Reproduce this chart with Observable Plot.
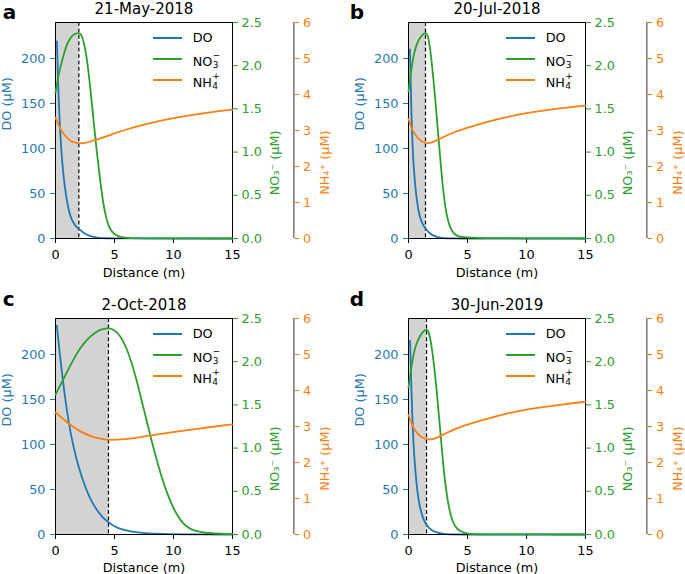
<!DOCTYPE html>
<html>
<head>
<meta charset="utf-8">
<script src="https://cdn.jsdelivr.net/npm/d3@7"></script>
<script src="https://cdn.jsdelivr.net/npm/@observablehq/plot@0.6"></script>
<style>
html, body { margin: 0; padding: 0; background: #fff; overflow: hidden; }
#fig { position: relative; width: 685px; height: 574px; overflow: hidden; background: #fff;
       font-family: "DejaVu Sans", sans-serif; }
#fig svg { position: absolute; overflow: visible; }
.lgline { position: absolute; height: 1.8px; }
.lgtext { position: absolute; font-size: 12.8px; line-height: 1; white-space: nowrap; color: #000; }
.st { display: inline-block; position: relative; width: 6px; height: 12.8px; vertical-align: baseline; }
.st .sp, .st .sb { position: absolute; left: 0.3px; font-size: 8.96px; line-height: 1; }
.st .sp { top: -1.2px; }
.st .sb { top: 8.2px; }
</style>
</head>
<body>
<div id="fig"></div>
<script>
// ---------- data ----------
const panelLetters = ["a", "b", "c", "d"];
const panelDates = ["21-May-2018", "20-Jul-2018", "2-Oct-2018", "30-Jun-2019"];
const oxicBoundary = [1.98, 1.44, 4.49, 1.53];   // dashed line / shaded zone edge (m)

const distTicks = [0, 5, 10, 15];
const doTicks = [0, 50, 100, 150, 200];
const no3Ticks = [0, 0.5, 1, 1.5, 2, 2.5];
const nh4Ticks = [0, 1, 2, 3, 4, 5, 6];
const doAxisMax = 240;

const seriesNames = ["DO", "NO₃⁻", "NH₄⁺"];
const legendParts = [["DO", "", ""], ["NO", "3", "−"], ["NH", "4", "+"]];
const axisLabels = ["DO (μM)", "NO₃⁻ (μM)", "NH₄⁺ (μM)"];
const xLabel = "Distance (m)";

// [distance m, DO µM]
const doA = [[0.12,219],[0.23,168],[0.34,131],[0.51,94],[0.65,73],[0.8,56],[1.0,39],[1.2,27],[1.45,18.5],[1.75,13],[1.98,10.7],[2.4,6],[2.9,2.6],[3.5,0.9],[4.3,0.2],[5,0],[15,0]];
const doB = [[0.12,210],[0.19,170],[0.26,132],[0.35,101],[0.45,77],[0.6,54],[0.74,39],[0.9,27],[1.1,18],[1.44,10.7],[1.8,5.5],[2.2,2.4],[2.7,0.7],[3.3,0.1],[4,0],[15,0]];
const doC = [[0.11,232],[0.4,196],[0.82,150],[1.15,122],[1.47,100],[2.0,72],[2.6,50],[3.0,38],[3.5,27],[4.0,19],[4.49,13.5],[5.0,9],[5.5,6],[6.5,3],[7.5,1.5],[9,0.5],[11,0.1],[15,0]];
const doD = [[0.14,215],[0.22,172],[0.31,133],[0.42,101],[0.54,77],[0.68,56],[0.82,41],[1.0,28],[1.25,17],[1.53,10],[1.9,5.2],[2.3,2.4],[2.9,0.7],[3.5,0.1],[4.2,0],[15,0]];

// [distance m, NO3- µM]
const no3A = [[0,1.69],[0.2,1.85],[0.4,1.98],[0.7,2.13],[0.96,2.25],[1.25,2.32],[1.53,2.365],[1.98,2.385],[2.2,2.36],[2.4,2.28],[2.66,2.09],[2.94,1.76],[3.22,1.37],[3.5,1.0],[3.79,0.66],[4.07,0.38],[4.35,0.2],[4.64,0.1],[5,0.045],[5.5,0.016],[6,0.006],[7,0.001],[15,0]];
const no3B = [[0,1.70],[0.2,1.92],[0.4,2.10],[0.6,2.21],[0.82,2.29],[1.1,2.35],[1.44,2.385],[1.6,2.37],[1.8,2.25],[2.09,1.88],[2.3,1.56],[2.52,1.2],[2.75,0.83],[2.94,0.55],[3.2,0.28],[3.5,0.13],[3.8,0.06],[4.2,0.02],[5,0.003],[15,0]];
const no3C = [[0,1.62],[0.5,1.75],[1,1.89],[1.5,2.02],[2,2.14],[2.5,2.23],[3,2.30],[3.5,2.35],[4,2.38],[4.49,2.39],[5,2.37],[5.5,2.30],[6,2.17],[6.5,1.97],[7,1.72],[7.5,1.44],[8,1.16],[8.5,0.90],[9,0.66],[9.5,0.46],[10,0.30],[10.5,0.18],[11,0.10],[11.5,0.06],[12,0.035],[13,0.015],[14,0.008],[15,0.005]];
const no3D = [[0,1.70],[0.2,1.90],[0.4,2.07],[0.6,2.18],[0.82,2.26],[1.2,2.35],[1.53,2.38],[1.7,2.36],[1.95,2.2],[2.24,1.875],[2.45,1.57],[2.66,1.25],[2.87,0.92],[3.08,0.62],[3.35,0.36],[3.64,0.18],[3.95,0.09],[4.35,0.035],[5,0.008],[6,0.001],[15,0]];

// [distance m, NH4+ µM]
const nh4A = [[0,3.36],[0.2,3.19],[0.4,3.05],[0.7,2.9],[0.96,2.8],[1.25,2.72],[1.53,2.67],[1.98,2.64],[2.5,2.65],[3,2.70],[4,2.80],[5,2.92],[6,3.03],[7.5,3.17],[10,3.35],[12.5,3.48],[15,3.58]];
const nh4B = [[0,3.32],[0.2,3.12],[0.4,2.96],[0.82,2.77],[1.2,2.68],[1.58,2.64],[2.0,2.66],[3,2.83],[4,2.97],[5,3.08],[7.5,3.32],[10,3.49],[12.5,3.61],[15,3.69]];
const nh4C = [[0,3.39],[0.5,3.25],[1,3.11],[1.5,2.99],[2,2.88],[2.5,2.80],[3,2.73],[3.5,2.68],[4,2.65],[4.5,2.63],[5,2.63],[6,2.65],[7.5,2.72],[8,2.75],[10,2.85],[12.5,2.96],[15,3.06]];
const nh4D = [[0,3.32],[0.2,3.13],[0.4,2.97],[0.82,2.77],[1.2,2.68],[1.75,2.63],[2.2,2.65],[3,2.79],[4,2.94],[5,3.06],[7.5,3.30],[10,3.48],[12.5,3.59],[15,3.69]];

const doSeries = [doA, doB, doC, doD];
const no3Series = [no3A, no3B, no3C, no3D];
const nh4Series = [nh4A, nh4B, nh4C, nh4D];

// ---------- style / layout ----------
const BLUE = "#1f77b4", GREEN = "#2ca02c", ORANGE = "#ff7f0e";
const frameLeft = [55.3, 408.3], frameTop = [21.7, 317.7];
const frameW = 177, frameH = 216;
const mL = 60, mR = 110, mT = 30, mB = 50;
const letterX = [2.5, 349.5], letterBaseline = [18, 305];
const xLabelDy = [34.5, 33.5];
const nh4AxisOffset = 61.4;
const legendRows = [16.6, 37, 58];

const fig = document.getElementById("fig");

function place(svg, left, top) {
  svg.style.left = left + "px";
  svg.style.top = top + "px";
  fig.appendChild(svg);
}

function panel(i) {
  const col = i % 2, row = Math.floor(i / 2);
  const fl = frameLeft[col], ft = frameTop[row];
  const base = {
    width: mL + frameW + mR, height: mT + frameH + mB,
    marginLeft: mL, marginRight: mR, marginTop: mT, marginBottom: mB,
    x: {domain: [0, d3.max(distTicks)], axis: null},
    style: {background: "transparent", overflow: "visible", fontFamily: "'DejaVu Sans', sans-serif", fontSize: "12.8px", color: "black"}
  };
  const line = (data, stroke) => Plot.line(data, {x: d => d[0], y: d => d[1], stroke, strokeWidth: 1.8, curve: "basis"});
  const label = (txt, opts) => Plot.text([txt], {text: d => d, lineAnchor: "middle", ...opts});

  const main = Plot.plot({
    ...base,
    y: {domain: [0, doAxisMax], axis: null},
    marks: [
      Plot.rect([oxicBoundary[i]], {x1: 0, x2: d => d, y1: 0, y2: doAxisMax, fill: "#d3d3d3"}),
      Plot.ruleX([oxicBoundary[i]], {x: d => d, stroke: "black", strokeWidth: 1.2, strokeDasharray: "4,2.4"}),
      line(doSeries[i], BLUE),
      Plot.frame({stroke: "black", strokeWidth: 1}),
      Plot.axisX({ticks: distTicks, tickSize: 5, tickPadding: 6, label: null, color: "black"}),
      Plot.axisY({ticks: doTicks, anchor: "left", tickSize: 5, tickPadding: 5, label: null, color: BLUE}),
      label(panelDates[i], {frameAnchor: "top", dy: -13, fontSize: 15}),
      label(xLabel, {frameAnchor: "bottom", dy: xLabelDy[row]}),
      label(axisLabels[0], {frameAnchor: "left", dx: -48.5, rotate: -90, fill: BLUE}),
      label(panelLetters[i], {frameAnchor: "top-left", dx: letterX[col] - fl, dy: letterBaseline[row] - 6.4 - ft,
        fontSize: 20, fontWeight: "bold", textAnchor: "start"})
    ]
  });
  place(main, fl - mL, ft - mT);

  const no3 = Plot.plot({
    ...base,
    y: {domain: [0, d3.max(no3Ticks)], axis: null},
    marks: [
      line(no3Series[i], GREEN),
      Plot.axisY({ticks: no3Ticks, anchor: "right", tickSize: 5, tickPadding: 4, tickFormat: d3.format(".1f"), label: null, color: GREEN}),
      label(axisLabels[1], {frameAnchor: "right", dx: 42.7, rotate: -90, fill: GREEN})
    ]
  });
  place(no3, fl - mL, ft - mT);

  const nh4 = Plot.plot({
    ...base,
    y: {domain: [0, d3.max(nh4Ticks)], axis: null},
    marks: [
      line(nh4Series[i], ORANGE),
      Plot.ruleX([d3.max(distTicks)], {x: d => d, dx: nh4AxisOffset, stroke: "#333", strokeWidth: 1}),
      Plot.axisY({ticks: nh4Ticks, anchor: "right", dx: nh4AxisOffset, tickSize: 5, tickPadding: 4, tickFormat: d3.format("d"), label: null, color: ORANGE}),
      label(axisLabels[2], {frameAnchor: "right", dx: nh4AxisOffset + 31, rotate: -90, fill: ORANGE})
    ]
  });
  place(nh4, fl - mL, ft - mT);

  // legend
  const colors = [BLUE, GREEN, ORANGE];
  legendParts.forEach(([b, sub, sup], k) => {
    const y = ft + legendRows[k];
    const ln = document.createElement("div");
    ln.className = "lgline";
    ln.style.left = (fl + 98) + "px";
    ln.style.width = "28.4px";
    ln.style.top = (y - 0.9) + "px";
    ln.style.background = colors[k];
    fig.appendChild(ln);
    const tx = document.createElement("div");
    tx.className = "lgtext";
    tx.style.left = (fl + 137.4) + "px";
    tx.style.top = (y - 6.2) + "px";
    tx.title = seriesNames[k];
    tx.innerHTML = b + (sub ? `<span class="st"><span class="sp">${sup}</span><span class="sb">${sub}</span></span>` : "");
    fig.appendChild(tx);
  });
}

for (let i = 0; i < 4; i++) panel(i);
</script>
</body>
</html>
